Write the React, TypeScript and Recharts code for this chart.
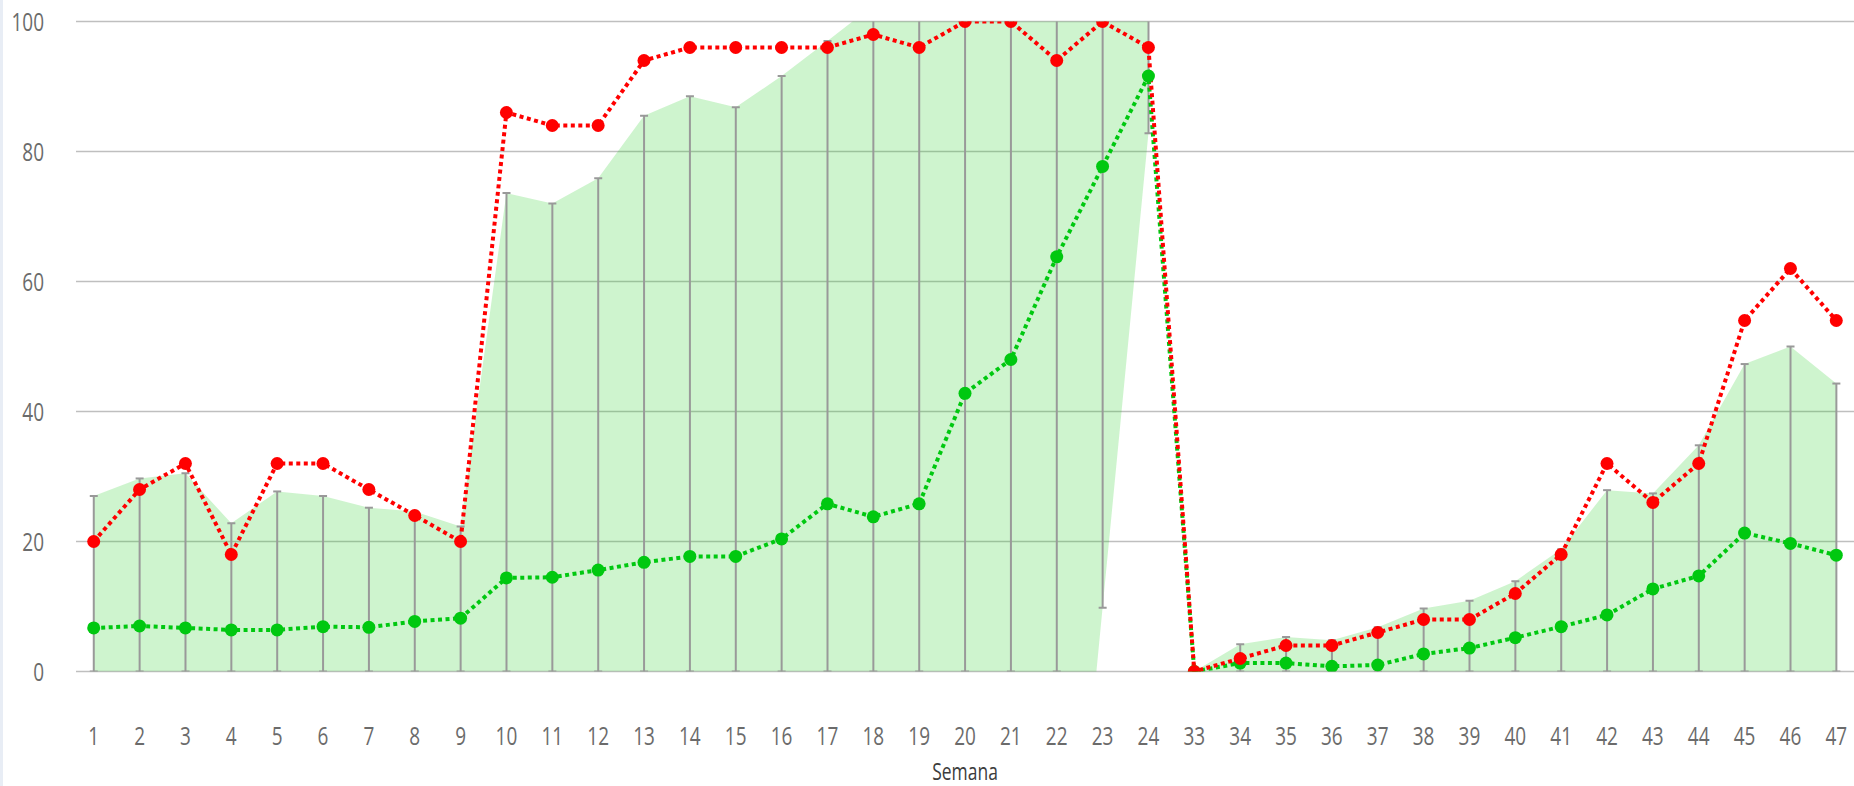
import React from 'react';
import { ComposedChart, Area, Line, Bar, XAxis, YAxis, CartesianGrid } from 'recharts';

const weeks = [
  '1', '2', '3', '4', '5', '6', '7', '8', '9', '10', '11', '12', '13', '14', '15', '16', '17', '18', '19', '20', '21', '22', '23', '24',
  '33', '34', '35', '36', '37', '38', '39', '40', '41', '42', '43', '44', '45', '46', '47',
];

const redValues = [
  20, 28, 32, 18, 32, 32, 28, 24, 20, 86, 84, 84, 94, 96, 96, 96, 96, 98, 96, 100, 100, 94, 100, 96,
  0, 2, 4, 4, 6, 8, 8, 12, 18, 32, 26, 32, 54, 62, 54,
];

const greenValues = [
  6.7, 7.0, 6.7, 6.4, 6.4, 6.9, 6.8, 7.7, 8.2, 14.4, 14.5, 15.6, 16.8, 17.7, 17.7, 20.4, 25.8, 23.8, 25.8, 42.8, 48.0, 63.8, 77.7, 91.6,
  0, 1.3, 1.3, 0.8, 1.0, 2.7, 3.6, 5.2, 6.9, 8.7, 12.7, 14.7, 21.3, 19.7, 17.9,
];

const upperValues = [
  27.0, 29.7, 30.5, 22.8, 27.7, 27.0, 25.2, 24.6, 22.3, 73.6, 72.0, 75.9, 85.5, 88.5, 86.8, 91.6, 97, 102.5, 106, 108, 108, 106, 110, 100.3,
  0, 4.2, 5.3, 4.8, 6.8, 9.7, 10.9, 13.9, 18.8, 27.9, 27.4, 34.8, 47.3, 50.0, 44.3,
];

const lowerValues = [
  0, 0, 0, 0, 0, 0, 0, 0, 0, 0, 0, 0, 0, 0, 0, 0, 0, 0, 0, 0, 0, 0, 9.8, 82.8,
  0, 0, 0, 0, 0, 0, 0, 0, 0, 0, 0, 0, 0, 0, 0,
];

const bandLowerValues = [
  0, 0, 0, 0, 0, 0, 0, 0, 0, 0, 0, 0, 0, 0, 0, 0, 0, 0, 0, 0, 0, -63, 9.8, 82.8,
  0, 0, 0, 0, 0, 0, 0, 0, 0, 0, 0, 0, 0, 0, 0,
];

const yTicks = [0, 20, 40, 60, 80, 100];
const firstSeasonCount = 24;

const RED = '#ff0000';
const GREEN = '#00c810';
const FONT = "'Open Sans', 'Noto Sans', sans-serif";
const NARROW = 0.76;

const data = weeks.map((w, i) => ({
  week: w,
  red: redValues[i],
  green: greenValues[i],
  range: [lowerValues[i], upperValues[i]],
  bandA: i < firstSeasonCount ? [bandLowerValues[i], upperValues[i]] : null,
  bandB: i >= firstSeasonCount ? [bandLowerValues[i], upperValues[i]] : null,
}));

const XTick = (props: any) => {
  const { x, y, payload } = props;
  return (
    <g transform={`translate(${x},${y})`}>
      <text
        transform={`scale(${NARROW},1)`}
        textAnchor="middle"
        dy="0.72em"
        fill="#6b6b6b"
        fontSize={25}
        fontFamily={FONT}
      >
        {payload.value}
      </text>
    </g>
  );
};

const YTick = (props: any) => {
  const { x, y, payload } = props;
  return (
    <g transform={`translate(${x},${y})`}>
      <text
        transform={`scale(${NARROW},1)`}
        textAnchor="end"
        dy="0.36em"
        fill="#6b6b6b"
        fontSize={25}
        fontFamily={FONT}
      >
        {payload.value}
      </text>
    </g>
  );
};

const AxisTitle = (props: any) => {
  const { viewBox } = props;
  const cx = viewBox.x + viewBox.width / 2;
  const by = viewBox.y + viewBox.height - 6.5;
  return (
    <g transform={`translate(${cx},${by})`}>
      <text transform={`scale(${NARROW},1)`} textAnchor="middle" fill="#3c3c3c" fontSize={23} fontFamily={FONT}>
        Semana
      </text>
    </g>
  );
};

const ErrorShape = (props: any) => {
  const { x, y, width, height } = props;
  if (x == null || y == null) return null;
  const cx = x + width / 2;
  const cap = 4;
  return (
    <g stroke="#999999" strokeWidth={2} fill="none">
      <line x1={cx} x2={cx} y1={y} y2={y + height} />
      <line x1={cx - cap} x2={cx + cap} y1={y} y2={y} />
      <line x1={cx - cap} x2={cx + cap} y1={y + height} y2={y + height} />
    </g>
  );
};

export default function App() {
  return (
    <div style={{ position: 'absolute', left: 0, top: 0, width: 1854, height: 786, background: '#fff' }}>
      <div style={{ position: 'absolute', left: 0, top: 0, width: 3, height: 786, background: '#e8edf5' }} />
      <div style={{ position: 'absolute', left: 0, top: 0 }}>
        <ComposedChart
          width={1854}
          height={786}
          data={data}
          margin={{ top: 21.5, right: 0, bottom: 0, left: 0 }}
        >
          <CartesianGrid vertical={false} stroke="#bfbfbf" strokeWidth={1.6} />
          <XAxis
            dataKey="week"
            type="category"
            scale="point"
            padding={{ left: 17.7, right: 17.7 }}
            height={114.5}
            axisLine={false}
            tickLine={false}
            tickSize={0}
            tickMargin={55}
            interval={0}
            tick={<XTick />}
            label={<AxisTitle />}
          />
          <YAxis
            type="number"
            domain={[0, 100]}
            ticks={yTicks}
            allowDataOverflow
            width={76}
            axisLine={false}
            tickLine={false}
            tickSize={0}
            tickMargin={32}
            tick={<YTick />}
          />
          <Area
            dataKey="bandA"
            type="linear"
            stroke="none"
            fill="#22cc22"
            fillOpacity={0.22}
            connectNulls={false}
            isAnimationActive={false}
            dot={false}
            activeDot={false}
          />
          <Area
            dataKey="bandB"
            type="linear"
            stroke="none"
            fill="#22cc22"
            fillOpacity={0.22}
            connectNulls={false}
            isAnimationActive={false}
            dot={false}
            activeDot={false}
          />
          <Bar dataKey="range" barSize={8} shape={<ErrorShape />} isAnimationActive={false} />
          <Line
            dataKey="green"
            type="linear"
            stroke={GREEN}
            strokeWidth={4}
            strokeDasharray="4 3.5"
            dot={{ r: 6.5, fill: GREEN, stroke: 'none' }}
            activeDot={false}
            isAnimationActive={false}
          />
          <Line
            dataKey="red"
            type="linear"
            stroke={RED}
            strokeWidth={4}
            strokeDasharray="4 3.5"
            dot={{ r: 6.5, fill: RED, stroke: 'none' }}
            activeDot={false}
            isAnimationActive={false}
          />
        </ComposedChart>
      </div>
    </div>
  );
}
